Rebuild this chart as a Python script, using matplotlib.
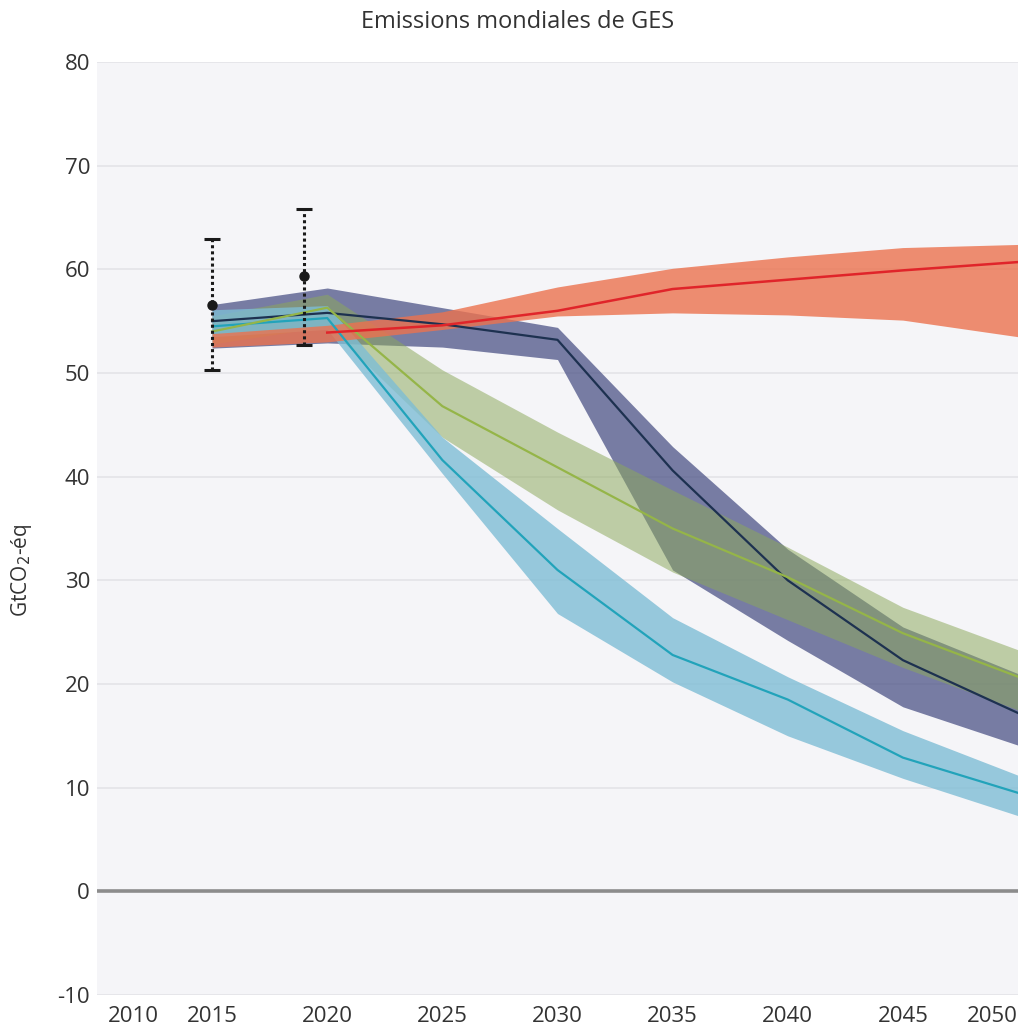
import numpy as np
import matplotlib
matplotlib.use("Agg")
import matplotlib.pyplot as plt
from matplotlib.transforms import ScaledTranslation

plt.rcParams['font.family'] = ['Open Sans', 'DejaVu Sans']
plt.rcParams['axes.unicode_minus'] = False

nan = np.nan
years = [2015, 2020, 2025, 2030, 2035, 2040, 2045, 2050]

# Reference scenario (current policies)
red_mid = [nan, 53.9, 54.6, 56.0, 58.1, 59.0, 59.9, 60.7]
red_hi = [53.8, 54.6, 55.9, 58.3, 60.1, 61.2, 62.1, 62.4]
red_lo = [52.5, 53.0, 54.2, 55.5, 55.8, 55.6, 55.1, 53.5]

# Delayed action
navy_mid = [55.0, 55.8, 54.7, 53.2, 40.6, 30.0, 22.3, 17.2]
navy_hi = [56.6, 58.2, 56.3, 54.4, 42.9, 33.0, 25.5, 21.0]
navy_lo = [52.4, 52.9, 52.5, 51.3, 31.0, 24.2, 17.8, 14.1]

# 2 °C pathway
green_mid = [54.0, 56.3, 46.8, 40.9, 35.0, 30.3, 24.9, 20.7]
green_hi = [55.5, 57.6, 50.3, 44.3, 38.7, 33.2, 27.4, 23.3]
green_lo = [52.8, 54.5, 43.8, 36.8, 30.8, 26.2, 21.6, 17.5]

# 1.5 °C pathway
blue_mid = [54.5, 55.3, 41.6, 31.0, 22.8, 18.5, 12.9, 9.5]
blue_hi = [56.1, 56.5, 43.8, 35.0, 26.4, 20.7, 15.5, 11.2]
blue_lo = [53.5, 54.2, 40.3, 26.8, 20.2, 15.0, 10.9, 7.3]

# Observed emissions with uncertainty range
obs_years = [2015, 2019]
obs_mid = [56.6, 59.4]
obs_lo = [50.3, 52.7]
obs_hi = [62.9, 65.8]

x_ticks = [2010, 2015, 2020, 2025, 2030, 2035, 2040, 2045, 2050]
y_ticks = [-10, 0, 10, 20, 30, 40, 50, 60, 70, 80]

fig = plt.figure(figsize=(10.18, 10.36), dpi=100)
ax = fig.add_axes([97 / 1018, 1 - 995 / 1036, 1 - 97 / 1018, (995 - 62) / 1036])
ax.set_facecolor('#f5f5f8')

for y in y_ticks:
    if y != 0:
        ax.axhline(y, color='#e6e6ea', lw=1.4, zorder=0)
ax.axhline(0, color='#8c8c8c', lw=2.6, zorder=1)

ax.fill_between(years, navy_lo, navy_hi, color='#474e83', alpha=0.72, lw=0, zorder=2)
ax.fill_between(years, green_lo, green_hi, color='#8ca95b', alpha=0.53, lw=0, zorder=3)
ax.fill_between(years, blue_lo, blue_hi, color='#7ebdd5', alpha=0.8, lw=0, zorder=4)
ax.fill_between(years, red_lo, red_hi, color='#ec724e', alpha=0.8, lw=0, zorder=5)

ax.plot(years, blue_mid, color='#22a3ba', lw=1.6, zorder=6)
ax.plot(years, navy_mid, color='#1d3150', lw=1.6, zorder=6)
ax.plot(years, green_mid, color='#95b548', lw=1.6, zorder=6)
ax.plot(years, red_mid, color='#e0252a', lw=1.8, zorder=7)

obs = np.array(obs_mid)
eb = ax.errorbar(obs_years, obs_mid,
                 yerr=[obs - np.array(obs_lo), np.array(obs_hi) - obs],
                 fmt='o', color='#1a1a1a', ms=6.5, capsize=6, capthick=2.2,
                 elinewidth=2.2, zorder=8)
eb[2][0].set_linestyle((0, (1, 1.0)))

ax.set_xlim(2010, 2050)
ax.set_ylim(-10, 80)
ax.set_xticks(x_ticks)
ax.set_xticklabels([str(v) for v in x_ticks])
ax.set_yticks(y_ticks)
ax.tick_params(axis='both', length=0, labelsize=16, colors='#333333')
ax.tick_params(axis='x', pad=8)
ax.tick_params(axis='y', pad=5)
xl = ax.get_xticklabels()
xl[0].set_horizontalalignment('left')
xl[0].set_transform(xl[0].get_transform() + ScaledTranslation(8 / 72, 0, fig.dpi_scale_trans))
xl[-1].set_horizontalalignment('right')
for s in ax.spines.values():
    s.set_visible(False)

ax.set_ylabel('GtCO$_2$-éq', fontsize=15, color='#333333')
ax.yaxis.set_label_coords(-0.068, 0.455)

fig.text(0.508, 1 - 22 / 1036, 'Emissions mondiales de GES', ha='center', va='center',
         fontsize=17, color='#333333')

fig.savefig('out.png', dpi=100, facecolor='white')
